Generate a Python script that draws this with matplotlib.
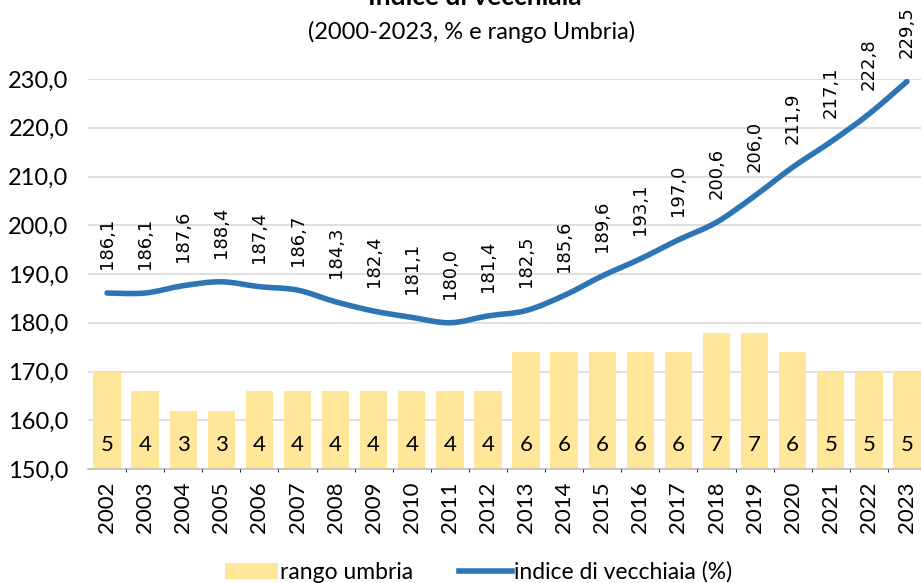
import numpy as np
import matplotlib.pyplot as plt
from matplotlib.path import Path
from matplotlib.patches import PathPatch, Patch
from matplotlib.lines import Line2D
from matplotlib.ticker import FuncFormatter, FixedLocator

years = [str(y) for y in range(2002, 2024)]
indice = [186.1, 186.1, 187.6, 188.4, 187.4, 186.7, 184.3, 182.4, 181.1, 180.0, 181.4,
          182.5, 185.6, 189.6, 193.1, 197.0, 200.6, 206.0, 211.9, 217.1, 222.8, 229.5]
rango = [5, 4, 3, 3, 4, 4, 4, 4, 4, 4, 4, 6, 6, 6, 6, 6, 7, 7, 6, 5, 5, 5]

blue = '#2E75B6'
gold = '#FFE699'
grid_c = '#D9D9D9'
font = 'Lato'

plt.rcParams['font.family'] = [font, 'DejaVu Sans']

fig = plt.figure(figsize=(9.21, 5.83), dpi=100)
ax = fig.add_axes([88/921, 1-469/583, (926-88)/921, (469-79)/583])
ax2 = ax.twinx()
ax.set_zorder(2)
ax2.set_zorder(1)
ax.patch.set_visible(False)

x = np.arange(len(years))

# bars (rank) on the secondary axis, drawn below
ax2.bar(x, rango, width=0.72, color=gold, zorder=2)
ax2.set_ylim(0, 20)
ax2.yaxis.set_major_locator(FixedLocator(np.linspace(0, 20, 9)))
ax2.tick_params(axis='y', length=0, labelright=False)
ax2.xaxis.set_minor_locator(FixedLocator(x[:-1] + 0.5))
ax2.grid(axis='y', color=grid_c, lw=1.2, zorder=0)
ax2.grid(axis='x', which='minor', color=grid_c, lw=1.2, zorder=0)
ax2.set_axisbelow(True)
for s in ax2.spines.values():
    s.set_visible(False)
ax2.spines['bottom'].set_visible(True)
ax2.spines['bottom'].set_color('#BFBFBF')
ax2.spines['bottom'].set_linewidth(1.2)
for xi, r in zip(x, rango):
    ax2.annotate(str(r), (xi, 0), xytext=(0, 17.3), textcoords='offset points',
                 ha='center', va='center', fontsize=16, family=font)

# smoothed line (Catmull-Rom style bezier like Excel)
pts = np.column_stack([x, indice]).astype(float)
ext = np.vstack([pts[0], pts, pts[-1]])
verts = [tuple(pts[0])]
codes = [Path.MOVETO]
for i in range(len(pts) - 1):
    p0, p1, p2, p3 = ext[i], ext[i+1], ext[i+2], ext[i+3]
    c1 = p1 + (p2 - p0) / 6
    c2 = p2 - (p3 - p1) / 6
    verts += [tuple(c1), tuple(c2), tuple(p2)]
    codes += [Path.CURVE4] * 3
ax.add_patch(PathPatch(Path(verts, codes), facecolor='none', edgecolor=blue,
                       lw=4, capstyle='round', joinstyle='round', zorder=3))
for xi, v in zip(x, indice):
    ax.annotate(f"{v:.1f}".replace('.', ','), (xi, v), xytext=(0, 17),
                textcoords='offset points', rotation=90, ha='center', va='bottom',
                fontsize=13, family='DejaVu Sans', color='#000000')

ax.set_xlim(-0.5, len(years) - 0.5)
ax.set_ylim(150, 230)
ax.set_yticks(np.arange(150, 231, 10))
ax.yaxis.set_major_formatter(FuncFormatter(lambda v, p: f"{v:.1f}".replace('.', ',')))
ax.set_xticks(x)
ax.set_xticklabels(years, rotation=90)
ax.tick_params(axis='both', length=0)
ax.tick_params(axis='x', pad=9, labelsize=16)
ax.tick_params(axis='y', pad=14, labelsize=17)
for s in ax.spines.values():
    s.set_visible(False)

fig.text(475/921, 1-5/583, 'Indice di vecchiaia', ha='center', va='baseline',
         fontsize=19, fontweight='bold')
fig.text(472/921, 1-32/583, '(2000-2023, % e rango Umbria)', ha='center', va='center',
         fontsize=17)

handles = [Patch(facecolor=gold, edgecolor='none'),
           Line2D([], [], color=blue, lw=4)]
fig.legend(handles, ['rango umbria', 'indice di vecchiaia (%)'], loc='center',
           bbox_to_anchor=(479/921, 1-572/583), ncol=2, frameon=False, fontsize=16.5,
           handlelength=2.3, handleheight=0.7, handletextpad=0.1, columnspacing=2.0)

fig.savefig('out.png', dpi=100)
